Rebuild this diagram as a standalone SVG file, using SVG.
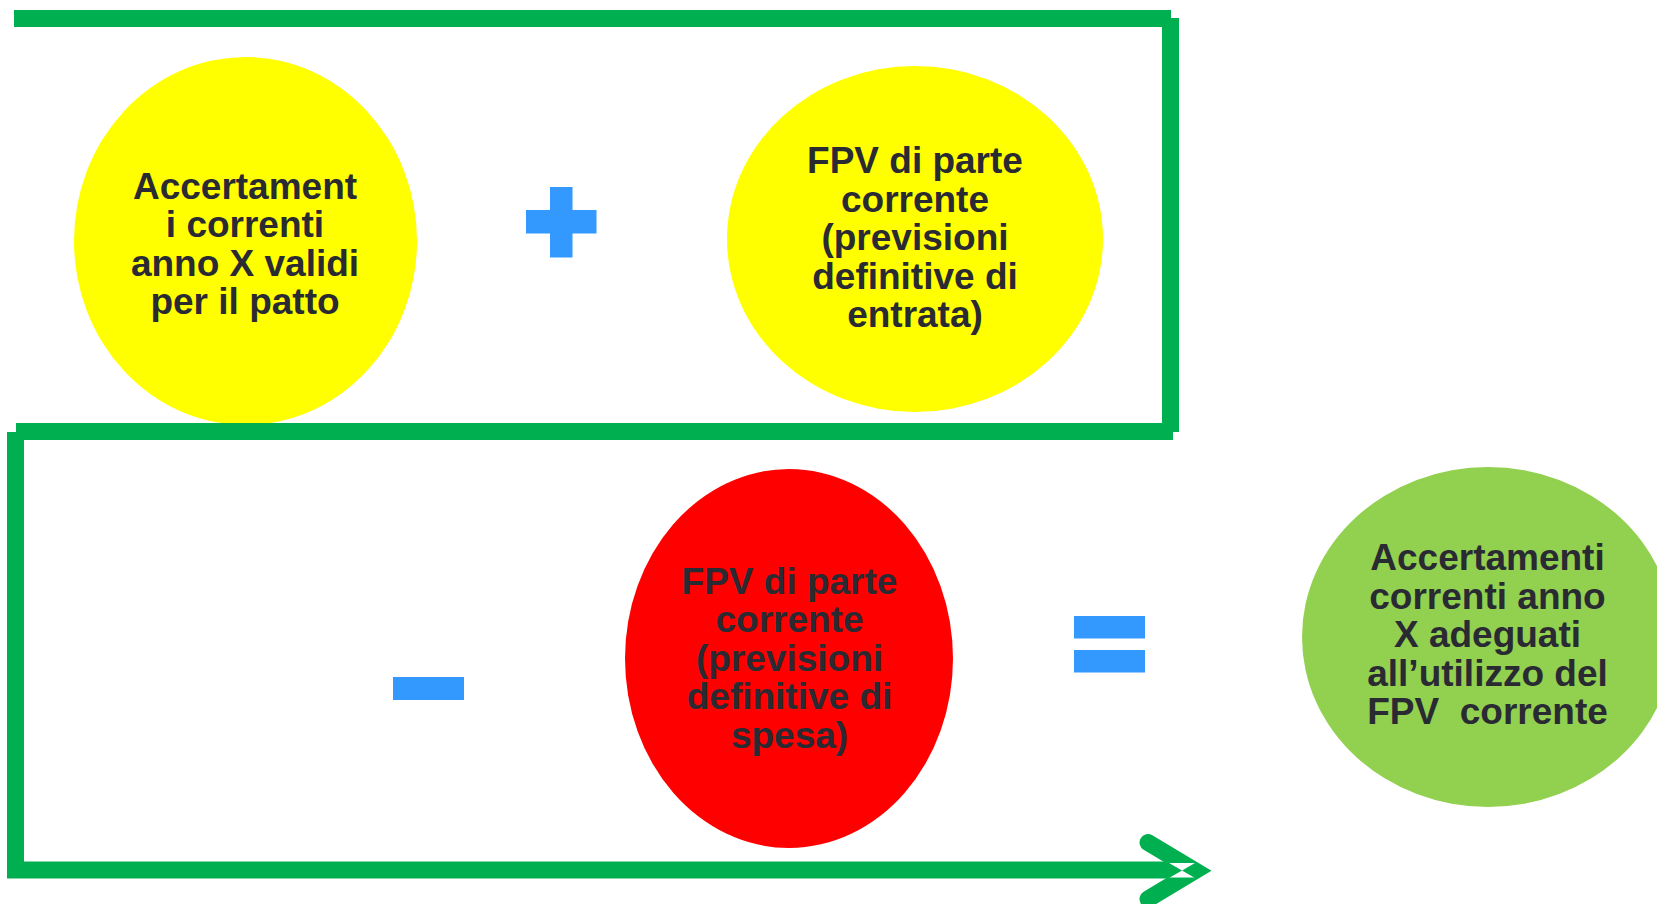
<svg xmlns="http://www.w3.org/2000/svg" width="1657" height="904" viewBox="0 0 1657 904">
  <style>
    .lbl { font-family: "Liberation Sans", Arial, sans-serif; font-weight: bold; font-size: 37px; fill: #2A2A33; text-anchor: middle; }
    .op { fill: #3399FF; }
    .path { fill: none; stroke: #00B050; stroke-width: 17; stroke-linecap: butt; }
  </style>
  <rect width="1657" height="904" fill="#FFFFFF"/>

  <!-- Nodes (tspans kept on one line so no stray spaces shift the centred lines) -->
  <g id="accertamenti-anno-x">
    <ellipse cx="245.5" cy="241" rx="171.5" ry="184" fill="#FFFF00"/>
    <text class="lbl"><tspan x="245" y="198.5">Accertament</tspan><tspan x="245" y="237">i correnti</tspan><tspan x="245" y="275.5">anno X validi</tspan><tspan x="245" y="314">per il patto</tspan></text>
  </g>

  <g id="fpv-entrata">
    <ellipse cx="915" cy="239" rx="188" ry="173" fill="#FFFF00"/>
    <text class="lbl"><tspan x="915" y="173">FPV di parte</tspan><tspan x="915" y="211.5">corrente</tspan><tspan x="915" y="250">(previsioni</tspan><tspan x="915" y="288.5">definitive di</tspan><tspan x="915" y="327">entrata)</tspan></text>
  </g>

  <g id="fpv-spesa">
    <ellipse cx="789" cy="658.5" rx="164" ry="189.5" fill="#FF0000"/>
    <text class="lbl"><tspan x="789.5" y="593.5">FPV di parte</tspan><tspan x="789.5" y="632">corrente</tspan><tspan x="789.5" y="670.5">(previsioni</tspan><tspan x="789.5" y="709">definitive di</tspan><tspan x="789.5" y="747.5">spesa)</tspan></text>
  </g>

  <g id="accertamenti-adeguati">
    <ellipse cx="1488" cy="637" rx="186" ry="170" fill="#92D050"/>
    <text class="lbl"><tspan x="1487.5" y="570">Accertamenti</tspan><tspan x="1487.5" y="608.5">correnti anno</tspan><tspan x="1487.5" y="647">X adeguati</tspan><tspan x="1487.5" y="685.5">all’utilizzo del</tspan><tspan x="1487.5" y="724" style="white-space:pre">FPV  corrente</tspan></text>
  </g>

  <!-- Operators -->
  <g id="op-plus" class="op">
    <rect x="550" y="187" width="22.5" height="70.5"/>
    <rect x="526" y="210" width="70.5" height="23.5"/>
  </g>
  <g id="op-minus" class="op">
    <rect x="393" y="677" width="71" height="23"/>
  </g>
  <g id="op-equals" class="op">
    <rect x="1074" y="616" width="71" height="22.5"/>
    <rect x="1074" y="650" width="71" height="22.5"/>
  </g>

  <!-- Connectors: the running green path with its arrowhead -->
  <g id="connectors">
    <line class="path" x1="14" y1="18.5" x2="1171" y2="18.5"/>
    <line class="path" x1="1170.5" y1="18" x2="1170.5" y2="432"/>
    <line class="path" x1="16" y1="431.5" x2="1173" y2="431.5"/>
    <line class="path" x1="15.5" y1="432" x2="15.5" y2="878"/>
    <line class="path" x1="7" y1="870" x2="1169" y2="870"/>
    <polyline points="1148,842.5 1195,870.7 1148,899" fill="none" stroke="#00B050" stroke-width="17" stroke-linecap="round" stroke-linejoin="miter"/>
    <rect x="1169" y="862.5" width="26.5" height="15.5" fill="#FFFFFF" stroke="#00B050" stroke-width="1"/>
    <polygon points="1169,863 1182,870.5 1169,878" fill="#00B050"/>
    <polygon points="1195,863 1182,870.5 1195,878" fill="#00B050"/>
  </g>
</svg>
